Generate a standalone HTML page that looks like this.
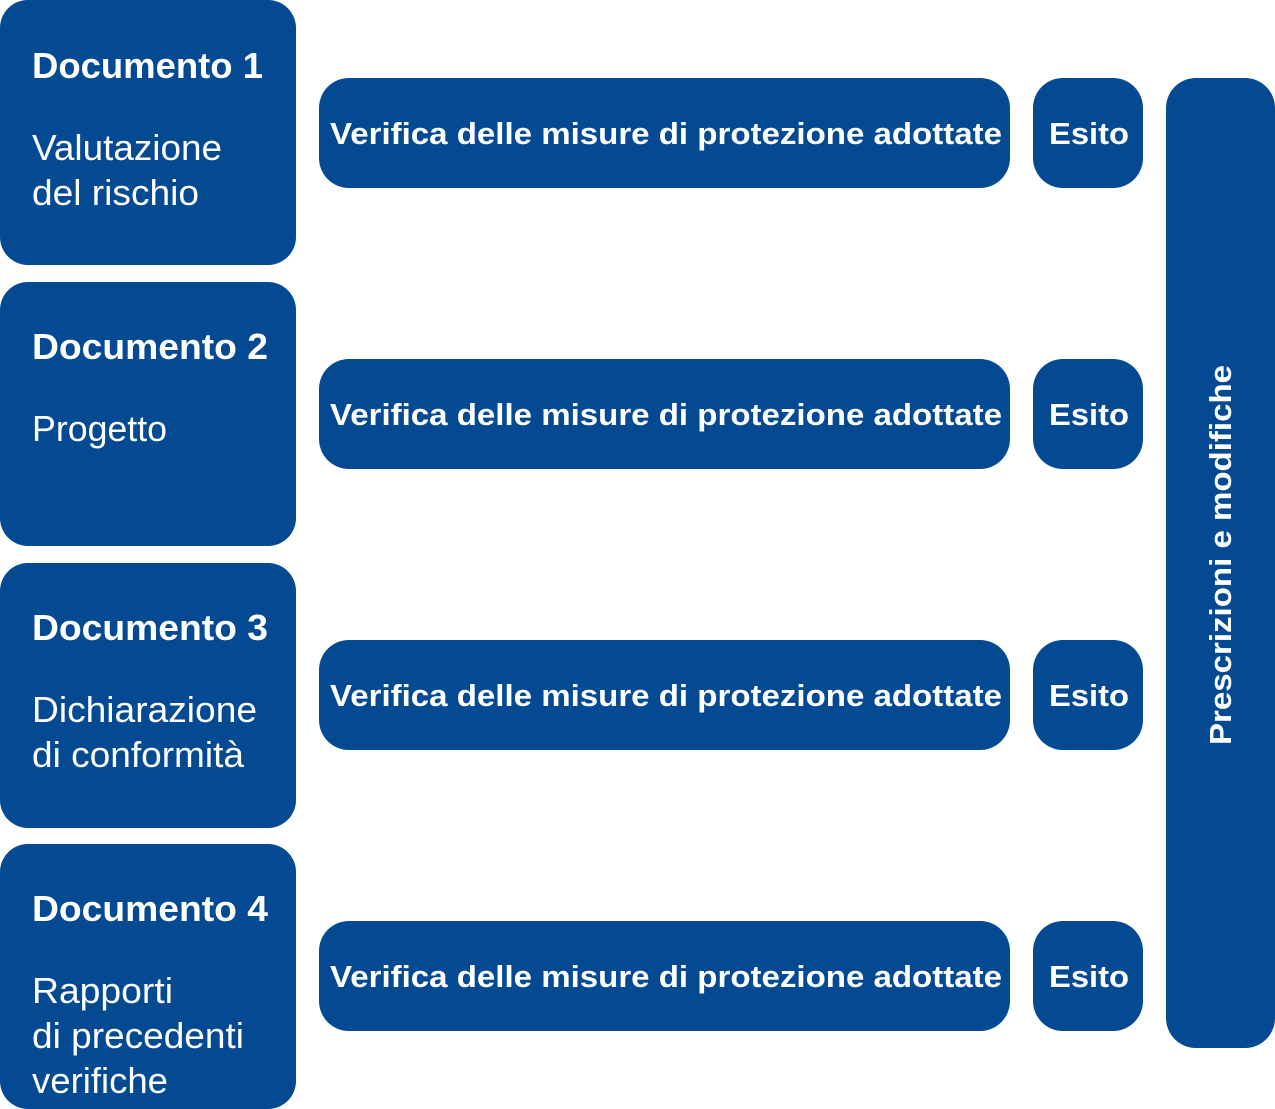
<!DOCTYPE html>
<html><head><meta charset="utf-8"><style>
html,body{margin:0;padding:0;background:#fff;}
svg{display:block;}
text{fill:#fff;font-family:"Liberation Sans",Arial,sans-serif;}
.b{font-weight:bold;}
</style></head><body>
<svg width="1275" height="1109" viewBox="0 0 1275 1109" xmlns="http://www.w3.org/2000/svg">
<g fill="#034a92">
<rect x="0" y="0" width="296" height="265" rx="28"/>
<rect x="0" y="282" width="296" height="264" rx="28"/>
<rect x="0" y="563" width="296" height="265" rx="28"/>
<rect x="0" y="844" width="296" height="265" rx="28"/>
<rect x="319" y="78" width="691" height="110" rx="30"/>
<rect x="319" y="359" width="691" height="110" rx="30"/>
<rect x="319" y="640" width="691" height="110" rx="30"/>
<rect x="319" y="921" width="691" height="110" rx="30"/>
<rect x="1033" y="78" width="110" height="110" rx="30"/>
<rect x="1033" y="359" width="110" height="110" rx="30"/>
<rect x="1033" y="640" width="110" height="110" rx="30"/>
<rect x="1033" y="921" width="110" height="110" rx="30"/>
<rect x="1166" y="78" width="109" height="970" rx="30"/>
</g>
<g font-size="36">
<text class="b" x="32" y="78" textLength="231" lengthAdjust="spacingAndGlyphs">Documento 1</text>
<text x="32" y="160" textLength="190" lengthAdjust="spacingAndGlyphs">Valutazione</text>
<text x="32" y="205" textLength="167" lengthAdjust="spacingAndGlyphs">del rischio</text>
<text class="b" x="32" y="359" textLength="236" lengthAdjust="spacingAndGlyphs">Documento 2</text>
<text x="32" y="441" textLength="135" lengthAdjust="spacingAndGlyphs">Progetto</text>
<text class="b" x="32" y="640" textLength="236" lengthAdjust="spacingAndGlyphs">Documento 3</text>
<text x="32" y="722" textLength="225" lengthAdjust="spacingAndGlyphs">Dichiarazione</text>
<text x="32" y="767" textLength="212" lengthAdjust="spacingAndGlyphs">di conformità</text>
<text class="b" x="32" y="921" textLength="236" lengthAdjust="spacingAndGlyphs">Documento 4</text>
<text x="32" y="1003" textLength="141" lengthAdjust="spacingAndGlyphs">Rapporti</text>
<text x="32" y="1048" textLength="212" lengthAdjust="spacingAndGlyphs">di precedenti</text>
<text x="32" y="1093" textLength="136" lengthAdjust="spacingAndGlyphs">verifiche</text>
</g>
<g font-size="31" class="b">
<text class="b" x="330" y="144" textLength="672" lengthAdjust="spacingAndGlyphs">Verifica delle misure di protezione adottate</text>
<text class="b" x="330" y="425" textLength="672" lengthAdjust="spacingAndGlyphs">Verifica delle misure di protezione adottate</text>
<text class="b" x="330" y="706" textLength="672" lengthAdjust="spacingAndGlyphs">Verifica delle misure di protezione adottate</text>
<text class="b" x="330" y="987" textLength="672" lengthAdjust="spacingAndGlyphs">Verifica delle misure di protezione adottate</text>
<text class="b" x="1049" y="144" textLength="80" lengthAdjust="spacingAndGlyphs">Esito</text>
<text class="b" x="1049" y="425" textLength="80" lengthAdjust="spacingAndGlyphs">Esito</text>
<text class="b" x="1049" y="706" textLength="80" lengthAdjust="spacingAndGlyphs">Esito</text>
<text class="b" x="1049" y="987" textLength="80" lengthAdjust="spacingAndGlyphs">Esito</text>
<text class="b" transform="translate(1231,745) rotate(-90)" x="0" y="0" textLength="380" lengthAdjust="spacingAndGlyphs">Prescrizioni e modifiche</text>
</g>
</svg>
</body></html>
